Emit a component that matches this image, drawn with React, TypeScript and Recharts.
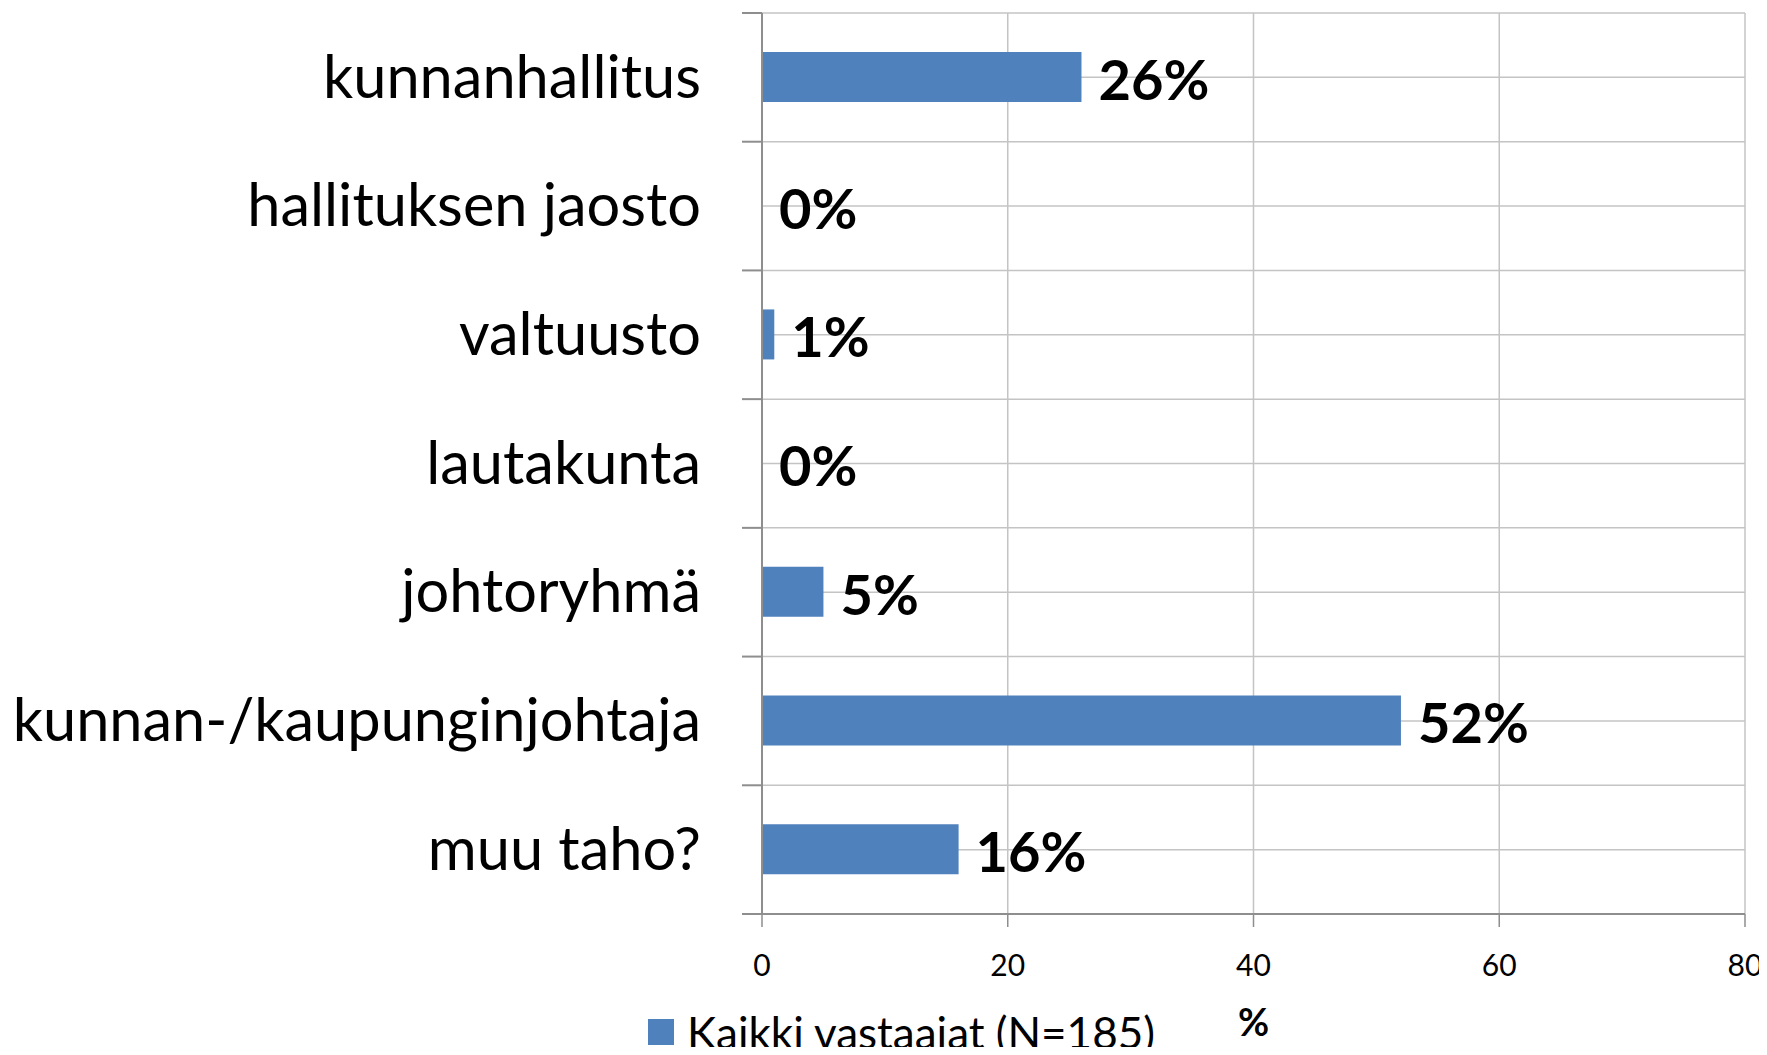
import React from "react";
import { BarChart, Bar, XAxis, YAxis, CartesianGrid, Legend, LabelList, Label } from "recharts";

const categories = [
  "kunnanhallitus",
  "hallituksen jaosto",
  "valtuusto",
  "lautakunta",
  "johtoryhmä",
  "kunnan-/kaupunginjohtaja",
  "muu taho?",
];
const shares = [26, 0, 1, 0, 5, 52, 16];
const xTicks = [0, 20, 40, 60, 80];
const seriesName = "Kaikki vastaajat (N=185)";
const axisTitle = "%";

const data = categories.map((name, i) => ({ name, value: shares[i] }));

const W = 1767;
const H = 1047;
const MARGIN = { top: 13, right: 22, left: 0, bottom: 0 };
const Y_AXIS_W = 762;
const X_AXIS_H = 95;
const LEGEND_H = 38;
const Y_TICK_SIZE = 20;
const Y_TICK_MARGIN = 41;
const PLOT_H = H - MARGIN.top - MARGIN.bottom - X_AXIS_H - LEGEND_H;
const BAND = PLOT_H / categories.length;

const BLUE = "#4F81BD";
const GRID = "#C4C4C4";
const AXIS = "#8E8E8E";
const FONT = "Lato, 'Open Sans', sans-serif";

const CategoryTick = (props: any) => {
  const { x, y, payload, index } = props;
  const axisX = x + Y_TICK_MARGIN + Y_TICK_SIZE;
  const half = BAND / 2;
  return (
    <g>
      <line x1={axisX - Y_TICK_SIZE} x2={axisX} y1={y - half} y2={y - half} stroke={AXIS} strokeWidth={2} />
      {index === categories.length - 1 && (
        <line x1={axisX - Y_TICK_SIZE} x2={axisX} y1={y + half} y2={y + half} stroke={AXIS} strokeWidth={2} />
      )}
      <text x={x} y={y} dy="0.34em" textAnchor="end" fontSize={59.5} fill="#000">
        {payload.value}
      </text>
    </g>
  );
};

const LegendBox = () => (
  <div style={{ display: "flex", alignItems: "center", height: LEGEND_H, fontSize: 44, color: "#000", whiteSpace: "nowrap" }}>
    <span style={{ display: "inline-block", width: 26, height: 26, background: BLUE, marginRight: 13 }} />
    {seriesName}
  </div>
);

export default function App() {
  return (
    <div style={{ fontFamily: FONT, width: W, height: H, marginLeft: -8, marginTop: -8 }}>
      <BarChart width={W} height={H} data={data} layout="vertical" margin={MARGIN} barSize={50}>
        <CartesianGrid
          stroke={GRID}
          strokeWidth={1.5}
          horizontalCoordinatesGenerator={({ offset }: any) =>
            Array.from({ length: categories.length * 2 + 1 }, (_, i) => offset.top + (i * offset.height) / (categories.length * 2))
          }
        />
        <XAxis
          type="number"
          domain={[0, 80]}
          ticks={xTicks}
          height={X_AXIS_H}
          tickSize={13}
          tickMargin={28}
          axisLine={{ stroke: AXIS, strokeWidth: 2 }}
          tickLine={{ stroke: AXIS, strokeWidth: 1.5 }}
          tick={{ fontSize: 30, fill: "#000" }}
        >
          <Label value={axisTitle} position="bottom" offset={0} fontSize={38} fontWeight={700} fill="#000" />
        </XAxis>
        <YAxis
          type="category"
          dataKey="name"
          width={Y_AXIS_W}
          tickSize={Y_TICK_SIZE}
          tickMargin={Y_TICK_MARGIN}
          tickLine={false}
          axisLine={{ stroke: AXIS, strokeWidth: 2 }}
          tick={<CategoryTick />}
          interval={0}
        />
        <Legend
          verticalAlign="bottom"
          height={LEGEND_H}
          wrapperStyle={{ left: 648, top: 1013, bottom: "auto", width: "auto" }}
          content={() => <LegendBox />}
        />
        <Bar
          dataKey="value"
          name={seriesName}
          fill={BLUE}
          isAnimationActive={false}
          minPointSize={(v: any) => (v === 0 ? 0.01 : 0)}
        >
          <LabelList
            dataKey="value"
            position="right"
            offset={17}
            formatter={(v: any) => `${v}%`}
            fill="#000"
            fontSize={56}
            fontWeight={700}
            dy={3}
          />
        </Bar>
      </BarChart>
    </div>
  );
}
